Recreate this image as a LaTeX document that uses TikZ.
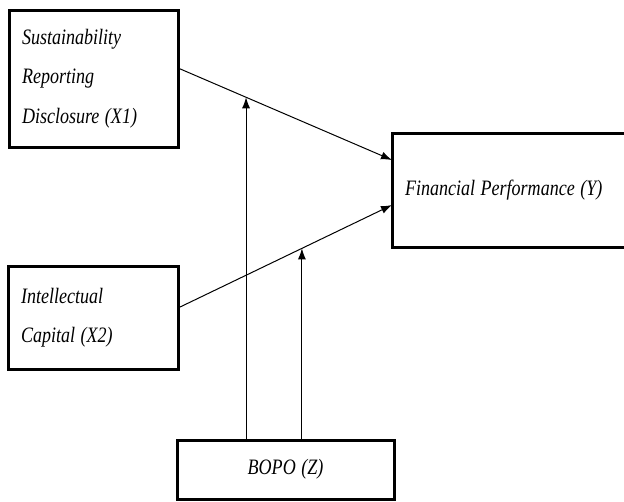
\documentclass[tikz,border=0pt]{standalone}
\usepackage{fontspec}
\newfontfamily\boxfont[FakeStretch=0.82]{Liberation Serif}
\usetikzlibrary{arrows.meta}
\newcommand\boxtext{\boxfont\itshape\fontsize{22}{39.5}\selectfont}
\newcommand\gap{\hspace{5.5pt}}
\begin{document}
\begin{tikzpicture}[x=1pt,y=-1pt,
  box/.style={draw, line width=3pt, rectangle, outer sep=0pt, inner xsep=13pt, inner ysep=0pt,
    align=left, anchor=north west, font=\boxtext},
  arr/.style={line width=1pt, -{Latex[length=11pt,width=8pt]}}]
\useasboundingbox (0,0) rectangle (624,501);
\node[box, minimum width=169pt, minimum height=137pt, text width=143pt] (x1) at (9,10)
  {Sustainability\\Reporting\\Disclosure\gap(X1)};
\node[box, minimum width=170pt, minimum height=103pt, text width=144pt] (x2) at (8,266)
  {Intellectual\\Capital\gap(X2)};
\node[box, minimum width=236pt, minimum height=114pt, text width=210pt] (y) at (392,133)
  {Financial\gap Performance\gap(Y)};
\node[box, align=center, minimum width=217pt, minimum height=59pt, text width=191pt] (z) at (177,440)
  {BOPO\gap(Z)};
\coordinate (a1) at ([yshift=10.5pt]x1.east);
\coordinate (b1) at ([yshift=30pt]y.west);
\coordinate (a2) at ([yshift=9.5pt]x2.east);
\coordinate (b2) at ([yshift=-15pt]y.west);
\draw[arr] (a1) -- (b1) coordinate[pos=0.318] (m1);
\draw[arr] (a2) -- (b2) coordinate[pos=0.579] (m2);
\draw[arr] (z.north -| m1) -- (m1);
\draw[arr] (z.north -| m2) -- (m2);
\end{tikzpicture}
\end{document}
